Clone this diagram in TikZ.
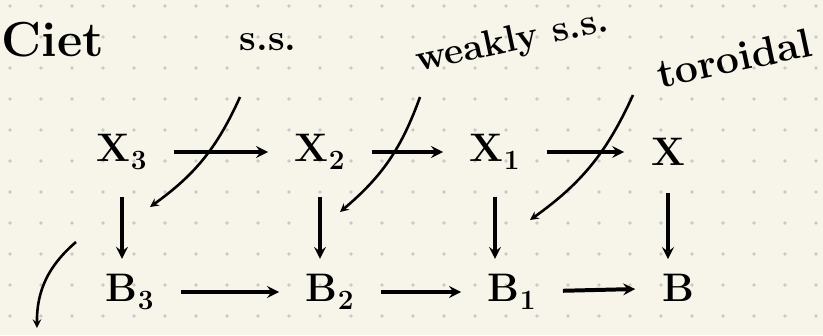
\documentclass[tikz,border=0pt]{standalone}
\usepackage{xcolor}
\definecolor{paperCream}{RGB}{247,245,234}
\definecolor{dotGray}{RGB}{202,202,196}

\begin{document}
\begin{tikzpicture}[x=0.03cm,y=-0.03cm,
  obj/.style={inner sep=0pt,font=\fontsize{34}{40}\selectfont\bfseries},
  note/.style={inner sep=0pt,font=\fontsize{32}{38}\selectfont\bfseries},
  map/.style={-stealth,line width=3.4pt,shorten <=0.8cm,shorten >=0.8cm},
  down/.style={-stealth,line width=3.4pt,shorten <=0.8cm,shorten >=0.45cm},
  slash/.style={-stealth,line width=2.2pt,bend left=15}]
  \def\dotr{1.6pt}
  \useasboundingbox[fill=paperCream] (0,0) rectangle (823,335);
  \foreach \i in {0,...,26}
    \foreach \j in {0,...,10}
      \fill[dotGray] (10+31*\i,6+31*\j) circle (\dotr);
  \node[note,font=\fontsize{42}{48}\selectfont\bfseries] (ciet) at (53,40) {Ciet};
  \node[note] (ss) at (268,42) {s.s.};
  \node[note,rotate=12] (weak) at (512,42) {weakly s.s.};
  \node[note,font=\fontsize{35}{42}\selectfont\bfseries,rotate=12] (toro) at (734,58) {toroidal};
  \node[obj] (x3) at (122,152) {X\textsubscript{3}};
  \node[obj] (x2) at (320,152) {X\textsubscript{2}};
  \node[obj] (x1) at (495,152) {X\textsubscript{1}};
  \node[obj] (x0) at (668,152) {X};
  \node[obj] (b3) at (130,292) {B\textsubscript{3}};
  \node[obj] (b2) at (330,292) {B\textsubscript{2}};
  \node[obj] (b1) at (512,292) {B\textsubscript{1}};
  \node[obj] (b0) at (678,288) {B};
  \draw[map] (x3) -- (x2);
  \draw[map] (x2) -- (x1);
  \draw[map] (x1) -- (x0);
  \draw[map] (b3) -- (b2);
  \draw[map] (b2) -- (b1);
  \draw[map] (b1) -- (b0);
  \draw[down] (x3) -- (x3 |- b3.north);
  \draw[down] (x2) -- (x2 |- b2.north);
  \draw[down] (x1) -- (x1 |- b1.north);
  \draw[down] (x0) -- (x0 |- b0.north);
  \coordinate (s1) at (240,97);
  \coordinate (t1) at (150,207);
  \coordinate (s2) at (420,97);
  \coordinate (t2) at (340,212);
  \coordinate (s3) at (633,95);
  \coordinate (t3) at (530,220);
  \coordinate (s4) at (76,242);
  \coordinate (t4) at (37,328);
  \draw[slash] (s1) to (t1);
  \draw[slash] (s2) to (t2);
  \draw[slash] (s3) to (t3);
  \draw[-stealth,line width=2.2pt] (s4) to[bend right=25] (t4);
\end{tikzpicture}
\end{document}
